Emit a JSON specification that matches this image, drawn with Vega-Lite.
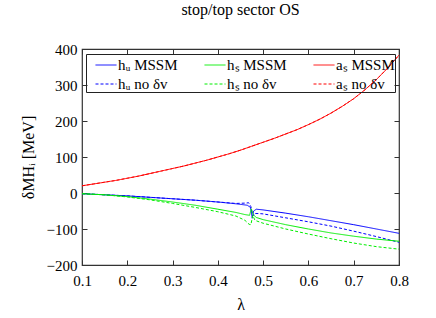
{
  "$schema": "https://vega.github.io/schema/vega-lite/v6.json",
  "width": 317,
  "height": 216,
  "autosize": "none",
  "padding": {"left": 82, "top": 49, "right": 37, "bottom": 53},
  "background": "white",
  "title": {"text": "stop/top sector OS", "font": "Liberation Serif", "fontSize": 16, "fontWeight": "normal", "color": "black", "offset": 24, "anchor": "middle"},
  "config": {
    "view": {"stroke": "#333333", "strokeWidth": 1.2},
    "axis": {"grid": false, "domain": false, "tickColor": "#333333", "tickSize": -5, "labelFlush": false, "labelFont": "Liberation Serif", "labelFontSize": 15, "labelColor": "black", "titleFont": "Liberation Serif", "titleFontSize": 16, "titleFontWeight": "normal", "titleColor": "black"},
    "legend": {"orient": "none", "legendX": 4, "legendY": 5, "columns": 3, "direction": "horizontal", "strokeColor": "#222222", "padding": 0, "symbolType": "stroke", "symbolSize": 441, "symbolStrokeWidth": 1, "symbolOffset": 9, "labelFont": "Liberation Serif", "labelFontSize": 15, "labelColor": "black", "columnPadding": 17, "rowPadding": -2, "labelOffset": 1}
  },
  "data": {"values": [
    {"l":0.1,"s":"aₛ MSSM","v":20},{"l":0.125,"s":"aₛ MSSM","v":25},{"l":0.15,"s":"aₛ MSSM","v":30},{"l":0.175,"s":"aₛ MSSM","v":35},{"l":0.2,"s":"aₛ MSSM","v":41},{"l":0.225,"s":"aₛ MSSM","v":47},{"l":0.25,"s":"aₛ MSSM","v":54},{"l":0.275,"s":"aₛ MSSM","v":61},{"l":0.3,"s":"aₛ MSSM","v":68},{"l":0.325,"s":"aₛ MSSM","v":75},{"l":0.35,"s":"aₛ MSSM","v":83},{"l":0.375,"s":"aₛ MSSM","v":91},{"l":0.4,"s":"aₛ MSSM","v":100},{"l":0.425,"s":"aₛ MSSM","v":109},{"l":0.45,"s":"aₛ MSSM","v":119},{"l":0.475,"s":"aₛ MSSM","v":130},{"l":0.5,"s":"aₛ MSSM","v":141},{"l":0.525,"s":"aₛ MSSM","v":152},{"l":0.55,"s":"aₛ MSSM","v":164},{"l":0.575,"s":"aₛ MSSM","v":176},{"l":0.6,"s":"aₛ MSSM","v":190},{"l":0.625,"s":"aₛ MSSM","v":205},{"l":0.65,"s":"aₛ MSSM","v":222},{"l":0.675,"s":"aₛ MSSM","v":241},{"l":0.7,"s":"aₛ MSSM","v":262},{"l":0.725,"s":"aₛ MSSM","v":287},{"l":0.75,"s":"aₛ MSSM","v":315},{"l":0.775,"s":"aₛ MSSM","v":347},{"l":0.8,"s":"aₛ MSSM","v":383},
    {"l":0.1,"s":"aₛ no δv","v":20},{"l":0.125,"s":"aₛ no δv","v":25},{"l":0.15,"s":"aₛ no δv","v":30},{"l":0.175,"s":"aₛ no δv","v":35},{"l":0.2,"s":"aₛ no δv","v":41},{"l":0.225,"s":"aₛ no δv","v":47},{"l":0.25,"s":"aₛ no δv","v":54},{"l":0.275,"s":"aₛ no δv","v":61},{"l":0.3,"s":"aₛ no δv","v":68},{"l":0.325,"s":"aₛ no δv","v":75},{"l":0.35,"s":"aₛ no δv","v":83},{"l":0.375,"s":"aₛ no δv","v":91},{"l":0.4,"s":"aₛ no δv","v":100},{"l":0.425,"s":"aₛ no δv","v":109},{"l":0.45,"s":"aₛ no δv","v":119},{"l":0.475,"s":"aₛ no δv","v":130},{"l":0.5,"s":"aₛ no δv","v":141},{"l":0.525,"s":"aₛ no δv","v":152},{"l":0.55,"s":"aₛ no δv","v":164},{"l":0.575,"s":"aₛ no δv","v":176},{"l":0.6,"s":"aₛ no δv","v":190},{"l":0.625,"s":"aₛ no δv","v":205},{"l":0.65,"s":"aₛ no δv","v":222},{"l":0.675,"s":"aₛ no δv","v":241},{"l":0.7,"s":"aₛ no δv","v":262},{"l":0.725,"s":"aₛ no δv","v":287},{"l":0.75,"s":"aₛ no δv","v":315},{"l":0.775,"s":"aₛ no δv","v":347},{"l":0.8,"s":"aₛ no δv","v":383},
    {"l":0.1,"s":"hᵤ MSSM","v":-2},{"l":0.15,"s":"hᵤ MSSM","v":-5},{"l":0.2,"s":"hᵤ MSSM","v":-8},{"l":0.25,"s":"hᵤ MSSM","v":-12},{"l":0.3,"s":"hᵤ MSSM","v":-16},{"l":0.35,"s":"hᵤ MSSM","v":-20},{"l":0.4,"s":"hᵤ MSSM","v":-25},{"l":0.44,"s":"hᵤ MSSM","v":-30},{"l":0.465,"s":"hᵤ MSSM","v":-34},{"l":0.472,"s":"hᵤ MSSM","v":-40},{"l":0.476,"s":"hᵤ MSSM","v":-70},{"l":0.479,"s":"hᵤ MSSM","v":-50},{"l":0.485,"s":"hᵤ MSSM","v":-45},{"l":0.5,"s":"hᵤ MSSM","v":-47},{"l":0.55,"s":"hᵤ MSSM","v":-56},{"l":0.6,"s":"hᵤ MSSM","v":-66},{"l":0.65,"s":"hᵤ MSSM","v":-77},{"l":0.7,"s":"hᵤ MSSM","v":-88},{"l":0.75,"s":"hᵤ MSSM","v":-100},{"l":0.8,"s":"hᵤ MSSM","v":-112},
    {"l":0.1,"s":"hᵤ no δv","v":-2},{"l":0.15,"s":"hᵤ no δv","v":-5},{"l":0.2,"s":"hᵤ no δv","v":-8},{"l":0.25,"s":"hᵤ no δv","v":-12},{"l":0.3,"s":"hᵤ no δv","v":-16},{"l":0.35,"s":"hᵤ no δv","v":-20},{"l":0.4,"s":"hᵤ no δv","v":-25},{"l":0.44,"s":"hᵤ no δv","v":-29},{"l":0.462,"s":"hᵤ no δv","v":-28},{"l":0.468,"s":"hᵤ no δv","v":-27},{"l":0.473,"s":"hᵤ no δv","v":-38},{"l":0.477,"s":"hᵤ no δv","v":-64},{"l":0.481,"s":"hᵤ no δv","v":-57},{"l":0.49,"s":"hᵤ no δv","v":-57},{"l":0.5,"s":"hᵤ no δv","v":-58},{"l":0.55,"s":"hᵤ no δv","v":-69},{"l":0.6,"s":"hᵤ no δv","v":-80},{"l":0.65,"s":"hᵤ no δv","v":-92},{"l":0.7,"s":"hᵤ no δv","v":-106},{"l":0.75,"s":"hᵤ no δv","v":-121},{"l":0.8,"s":"hᵤ no δv","v":-137},
    {"l":0.1,"s":"hₛ MSSM","v":-2},{"l":0.15,"s":"hₛ MSSM","v":-5},{"l":0.2,"s":"hₛ MSSM","v":-10},{"l":0.25,"s":"hₛ MSSM","v":-17},{"l":0.3,"s":"hₛ MSSM","v":-25},{"l":0.35,"s":"hₛ MSSM","v":-34},{"l":0.4,"s":"hₛ MSSM","v":-45},{"l":0.44,"s":"hₛ MSSM","v":-54},{"l":0.46,"s":"hₛ MSSM","v":-60},{"l":0.47,"s":"hₛ MSSM","v":-62},{"l":0.474,"s":"hₛ MSSM","v":-44},{"l":0.478,"s":"hₛ MSSM","v":-60},{"l":0.485,"s":"hₛ MSSM","v":-68},{"l":0.5,"s":"hₛ MSSM","v":-74},{"l":0.55,"s":"hₛ MSSM","v":-88},{"l":0.6,"s":"hₛ MSSM","v":-100},{"l":0.65,"s":"hₛ MSSM","v":-111},{"l":0.7,"s":"hₛ MSSM","v":-120},{"l":0.75,"s":"hₛ MSSM","v":-128},{"l":0.8,"s":"hₛ MSSM","v":-134},
    {"l":0.1,"s":"hₛ no δv","v":-2},{"l":0.15,"s":"hₛ no δv","v":-5},{"l":0.2,"s":"hₛ no δv","v":-11},{"l":0.25,"s":"hₛ no δv","v":-19},{"l":0.3,"s":"hₛ no δv","v":-29},{"l":0.35,"s":"hₛ no δv","v":-40},{"l":0.4,"s":"hₛ no δv","v":-52},{"l":0.44,"s":"hₛ no δv","v":-64},{"l":0.46,"s":"hₛ no δv","v":-76},{"l":0.469,"s":"hₛ no δv","v":-87},{"l":0.473,"s":"hₛ no δv","v":-88},{"l":0.477,"s":"hₛ no δv","v":-62},{"l":0.482,"s":"hₛ no δv","v":-76},{"l":0.5,"s":"hₛ no δv","v":-84},{"l":0.55,"s":"hₛ no δv","v":-100},{"l":0.6,"s":"hₛ no δv","v":-114},{"l":0.65,"s":"hₛ no δv","v":-127},{"l":0.7,"s":"hₛ no δv","v":-139},{"l":0.75,"s":"hₛ no δv","v":-149},{"l":0.8,"s":"hₛ no δv","v":-156}
  ]},
  "layer": [
    {
      "mark": {"type": "line", "strokeWidth": 1, "clip": true},
      "encoding": {
        "x": {"field": "l", "type": "quantitative", "scale": {"domain": [0.1, 0.8], "nice": false, "zero": false},
              "axis": {"orient": "bottom", "values": [0.1,0.2,0.3,0.4,0.5,0.6,0.7,0.8], "format": ".1f", "title": "λ", "labelPadding": 13, "titlePadding": 8}},
        "y": {"field": "v", "type": "quantitative", "scale": {"domain": [-200, 400], "nice": false, "zero": false},
              "axis": {"orient": "left", "values": [-200,-100,0,100,200,300,400], "title": "δMHᵢ [MeV]", "labelPadding": 10, "titlePadding": 10}},
        "color": {"field": "s", "type": "nominal", "title": null,
                  "scale": {"domain": ["hᵤ MSSM","hₛ MSSM","aₛ MSSM","hᵤ no δv","hₛ no δv","aₛ no δv"], "range": ["#0000ff","#00ee00","#ff0000","#0000ff","#00ee00","#ff0000"]}},
        "strokeDash": {"field": "s", "type": "nominal", "title": null,
                  "scale": {"domain": ["hᵤ MSSM","hₛ MSSM","aₛ MSSM","hᵤ no δv","hₛ no δv","aₛ no δv"], "range": [[1,0],[1,0],[1,0],[3,2],[3,2],[3,2]]}}
      }
    },
    {
      "mark": {"type": "line", "opacity": 0},
      "encoding": {
        "x": {"field": "l", "type": "quantitative", "axis": {"orient": "top", "values": [0.1,0.2,0.3,0.4,0.5,0.6,0.7,0.8], "labels": false, "title": null}},
        "y": {"field": "v", "type": "quantitative", "axis": {"orient": "right", "values": [-200,-100,0,100,200,300,400], "labels": false, "title": null}}
      }
    }
  ],
  "resolve": {"axis": {"x": "independent", "y": "independent"}}
}
